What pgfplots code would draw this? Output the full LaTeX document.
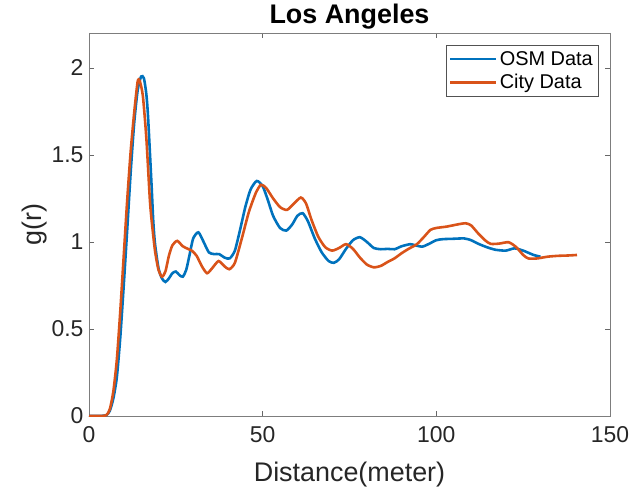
\documentclass[border=0pt]{standalone}
\usepackage{pgfplots}
\pgfplotsset{compat=1.18}
\usepackage{fontspec}
\setmainfont{Liberation Sans}
\definecolor{mblue}{rgb}{0,0.447,0.741}
\definecolor{morange}{rgb}{0.85,0.325,0.098}
\definecolor{axgray}{rgb}{0.15,0.15,0.15}
\begin{document}
\begin{tikzpicture}
\useasboundingbox (-89bp,-83bp) rectangle (542bp,416bp);
\begin{axis}[
  scale only axis,
  width=521bp, height=383bp,
  xmin=0, xmax=150, ymin=0, ymax=2.2,
  xtick={0,50,100,150}, ytick={0,0.5,1,1.5,2},
  /pgf/number format/assume math mode=true,
  tick label style={font=\fontsize{23}{25}\selectfont, text=axgray},
  xticklabel style={yshift=-7bp},
  yticklabel style={xshift=-2bp},
  label style={font=\fontsize{27}{29}\selectfont, text=axgray},
  title style={font=\bfseries\fontsize{27}{29}\selectfont, yshift=-6bp},
  title={Los Angeles},
  xlabel={Distance(meter)},
  ylabel={g(r)},
  xlabel style={yshift=-12bp},
  ylabel style={yshift=-2bp},
  axis line style={axgray!60, line width=0.7pt},
  tick style={axgray!70, line width=0.6pt},
  major tick length=5bp,
  tick align=inside,
  legend style={at={(0.977,0.969)}, anchor=north east, font=\fontsize{20}{22}\selectfont,
    draw=axgray!80, line width=0.5pt, inner xsep=3bp, inner ysep=4bp, row sep=4bp},
  legend cell align=left,
  legend image code/.code={\draw[#1, line width=2.6pt] (0bp,0bp) -- (46bp,0bp);},
]
\addplot[mblue, line width=2.6pt, smooth, tension=0.4] coordinates {
(0,0) (3,0) (5,0.005) (6,0.03) (7,0.10) (8,0.22) (9,0.45) (10,0.75) (11,1.07) (12,1.40)
(13,1.68) (14,1.87) (15,1.95) (15.8,1.94) (16.5,1.85) (17,1.72) (18,1.33) (18.5,1.12)
(19,0.99) (20,0.85) (21,0.79) (22,0.77) (23,0.79) (24,0.82) (25,0.83) (26,0.81) (27,0.80)
(28,0.84) (29,0.93) (30,1.02) (31.5,1.055) (33,1.0) (34.5,0.94) (36,0.93) (37.5,0.93)
(39,0.91) (40.5,0.905) (42,0.95) (43.5,1.07) (45,1.20) (46.5,1.30) (48.3,1.35) (50,1.32)
(51.5,1.24) (53,1.15) (55,1.08) (56.8,1.065) (58.5,1.10) (60,1.15) (61.5,1.165) (63,1.12)
(65,1.02) (67,0.94) (69,0.89) (70.5,0.88) (72,0.90) (74,0.96) (76,1.01) (78,1.027)
(80,1.00) (82,0.965) (84,0.958) (86,0.960) (88,0.958) (90,0.975) (92.5,0.987) (94,0.98)
(96,0.973) (98,0.99) (100,1.01) (102,1.016) (105,1.018) (108,1.02) (110,1.01) (112,0.99)
(114.5,0.97) (117,0.955) (120,0.95) (122.5,0.963) (125,0.95) (128,0.925) (130,0.915)
};
\addlegendentry{OSM Data}
\addplot[morange, line width=2.6pt, smooth, tension=0.4] coordinates {
(0,0) (3,0) (5,0.005) (6,0.04) (7,0.14) (8,0.32) (9,0.60) (10,0.92) (11,1.24) (12,1.52)
(13,1.74) (14,1.92) (14.6,1.925) (15.5,1.84) (16.5,1.6) (17.5,1.25) (18,1.13) (19,0.95)
(20,0.84) (21,0.80) (22,0.83) (23,0.92) (24,0.98) (25.4,1.006) (27,0.975) (28.5,0.96)
(29.6,0.95) (31,0.92) (32.5,0.86) (34,0.82) (35.5,0.85) (37.3,0.89) (39,0.86) (40.4,0.843)
(42,0.88) (44,1.02) (46,1.17) (48,1.28) (49.5,1.328) (51,1.31) (53,1.25) (55,1.20)
(57,1.184) (59,1.22) (61,1.255) (62.5,1.22) (64,1.13) (66,1.03) (68,0.97) (70,0.95)
(72,0.965) (74,0.987) (76,0.96) (78,0.91) (80,0.87) (82,0.854) (84,0.862) (86,0.885)
(88,0.906) (90,0.935) (92,0.96) (94.4,0.987) (96.5,1.03) (98.3,1.069) (100,1.08)
(103,1.088) (106,1.10) (108.4,1.107) (110,1.095) (112,1.05) (114,1.01) (115.6,0.989)
(118,0.99) (120.8,0.998) (123,0.97) (125,0.925) (126.5,0.905) (129,0.905) (132,0.915)
(135,0.92) (138,0.922) (140.5,0.925)
};
\addlegendentry{City Data}
\end{axis}
\end{tikzpicture}
\end{document}
